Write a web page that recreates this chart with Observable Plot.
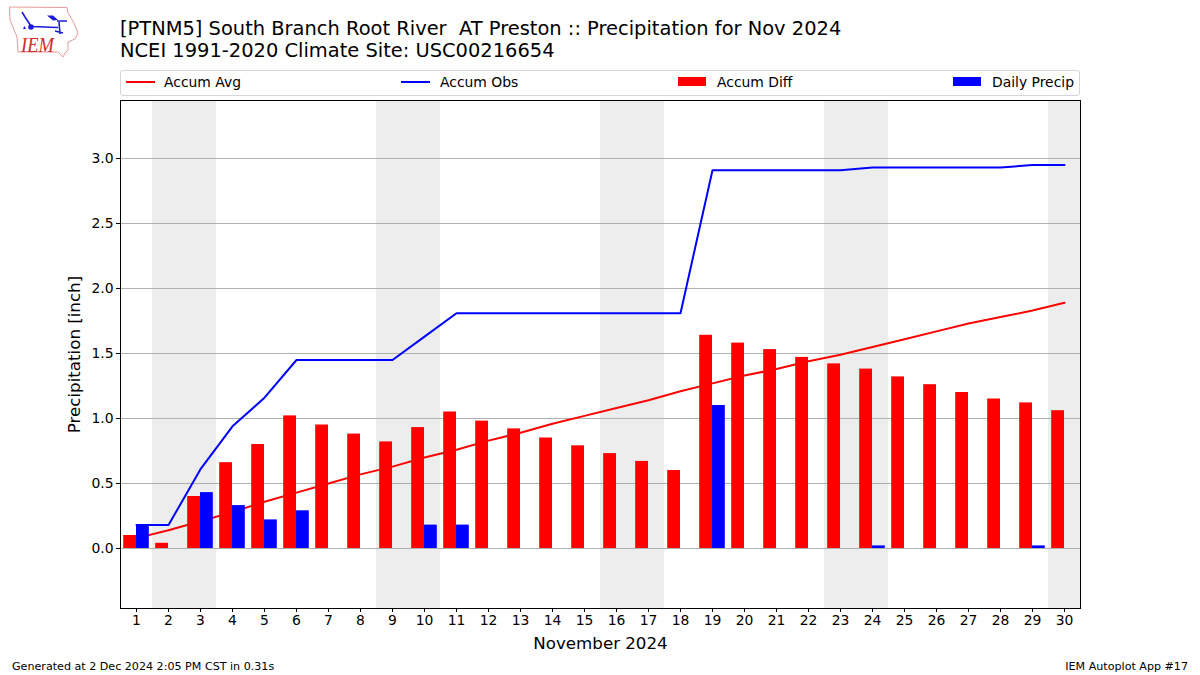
<!DOCTYPE html>
<html>
<head>
<meta charset="utf-8">
<script src="https://cdn.jsdelivr.net/npm/d3@7"></script>
<script src="https://cdn.jsdelivr.net/npm/@observablehq/plot@0.6"></script>
<style>
html,body{margin:0;padding:0;background:#fff;}
body{width:1200px;height:675px;position:relative;overflow:hidden;font-family:"DejaVu Sans",sans-serif;color:#000;}
#header{position:relative;height:99px;width:1200px;}
#title{position:absolute;left:120px;top:18px;font-size:19.45px;line-height:22px;white-space:pre;}
#legend{position:absolute;left:120px;top:70px;width:958px;height:23.5px;border:1px solid #d5d5d5;border-radius:3px;font-size:13.9px;}
#legend span{position:absolute;top:3px;white-space:pre;}
#legend i{position:absolute;display:block;}
.foot{position:absolute;top:660px;font-size:11.12px;white-space:pre;}
#logo{position:absolute;left:0;top:0;}
#chart svg{display:block;}
</style>
</head>
<body>
<div id="header">
  <svg id="logo" width="90" height="62" viewBox="0 0 90 62">
    <path d="M9.5 7 L67 7.5 L68 13 L74 23 L78 33 L75 39 L68 42 L68 50 L65 53 L63 57 L58 52 L18 52 L17 37 L10 20 Z" fill="#fff" stroke="#e59a9a" stroke-width="1"/>
    <path d="M31 26.5 L58 27.5 M22 12 L25 17 L31 26 M57 21 H67 M59 22 L60 34 M55 31 L63 33" fill="none" stroke="#1a1add" stroke-width="1.6"/>
    <path d="M47 15.5 L53 15.5 L58 20 L53 20.5 Z M23 29 L26 29 L24.5 26 Z" fill="#1a1add"/>
    <circle cx="31" cy="27" r="2.8" fill="#1a1add"/>
    <text x="21" y="52" font-family="Liberation Serif" font-style="italic" font-size="21" fill="#d02a2a" textLength="33" lengthAdjust="spacingAndGlyphs">IEM</text>
  </svg>
  <div id="title">[PTNM5] South Branch Root River  AT Preston :: Precipitation for Nov 2024
NCEI 1991-2020 Climate Site: USC00216654</div>
  <div id="legend">
    <i style="left:5px;top:10px;width:29px;height:2px;background:#f00"></i><span style="left:43px">Accum Avg</span>
    <i style="left:280px;top:10px;width:29px;height:2px;background:#00f"></i><span style="left:319px">Accum Obs</span>
    <i style="left:557px;top:6px;width:28px;height:9px;background:#f00"></i><span style="left:596px">Accum Diff</span>
    <i style="left:832px;top:6px;width:28px;height:9px;background:#00f"></i><span style="left:871px">Daily Precip</span>
  </div>
</div>
<div id="chart"></div>
<div class="foot" style="left:12px">Generated at 2 Dec 2024 2:05 PM CST in 0.31s</div>
<div class="foot" style="right:12px">IEM Autoplot App #17</div>
<script>
const days = d3.range(1, 31);
const weekendDays = [2,3,9,10,16,17,23,24,30];
const yTicks = [0,0.5,1,1.5,2,2.5,3];
const accumObs = [0.18,0.18,0.61,0.94,1.16,1.45,1.45,1.45,1.45,1.63,1.81,1.81,1.81,1.81,1.81,1.81,1.81,1.81,2.91,2.91,2.91,2.91,2.91,2.93,2.93,2.93,2.93,2.93,2.95,2.95];
const accumAvg = [0.08,0.14,0.21,0.28,0.36,0.43,0.50,0.57,0.63,0.70,0.76,0.83,0.89,0.96,1.02,1.08,1.14,1.21,1.27,1.33,1.38,1.44,1.49,1.55,1.61,1.67,1.73,1.78,1.83,1.89];
const accumDiff = [0.10,0.04,0.40,0.66,0.80,1.02,0.95,0.88,0.82,0.93,1.05,0.98,0.92,0.85,0.79,0.73,0.67,0.60,1.64,1.58,1.53,1.47,1.42,1.38,1.32,1.26,1.20,1.15,1.12,1.06];
const dailyPrecip = [0.18,0,0.43,0.33,0.22,0.29,0,0,0,0.18,0.18,0,0,0,0,0,0,0,1.10,0,0,0,0,0.02,0,0,0,0,0.02,0];

const rows = days.map((d,i)=>({day:d,obs:accumObs[i],avg:accumAvg[i],diff:accumDiff[i],daily:dailyPrecip[i]}));

const chart = Plot.plot({
  width:1200, height:557,
  marginLeft:120, marginRight:120, marginTop:1, marginBottom:48,
  style:{fontFamily:"DejaVu Sans",fontSize:"13.9px",background:"#fff",color:"#000"},
  x:{type:"linear",domain:[0.5,30.5]},
  y:{domain:[-0.4615,3.446]},
  marks:[
    Plot.rectX(weekendDays,{x1:d=>d-0.5,x2:d=>Math.min(d+0.5,30.5),y1:-0.4615,y2:3.446,fill:"#ededed"}),
    Plot.ruleY(yTicks,{stroke:"#b0b0b0",strokeWidth:1}),
    Plot.line(rows,{x:"day",y:"avg",stroke:"#f00",strokeWidth:2,curve:"linear"}),
    Plot.line(rows,{x:"day",y:"obs",stroke:"#00f",strokeWidth:2,curve:"linear"}),
    Plot.rectY(rows,{x1:d=>d.day-0.4,x2:d=>d.day,y1:0,y2:"diff",fill:"#f00"}),
    Plot.rectY(rows,{x1:d=>d.day,x2:d=>d.day+0.4,y1:0,y2:"daily",fill:"#00f"}),
    Plot.axisX({ticks:days,tickFormat:d=>String(d),tickSize:4,tickPadding:3,label:"November 2024",labelAnchor:"center",labelArrow:"none",labelOffset:40,fontSize:13.9,stroke:"#000"}),
    Plot.axisY({ticks:yTicks,tickFormat:d3.format(".1f"),tickSize:4,tickPadding:3,label:"Precipitation [inch]",labelAnchor:"center",labelArrow:"none",labelOffset:52,fontSize:13.9,stroke:"#000"}),
    Plot.frame({stroke:"#000",strokeWidth:1})
  ]
});
document.getElementById("chart").appendChild(chart);
// axis titles are larger than tick labels in the reference
const labels = [...chart.querySelectorAll("text")].filter(t=>/November 2024|Precipitation/.test(t.textContent));
labels.forEach(t=>{t.setAttribute("font-size","16.67");t.style.fontSize="16.67px";});
</script>
</body>
</html>
